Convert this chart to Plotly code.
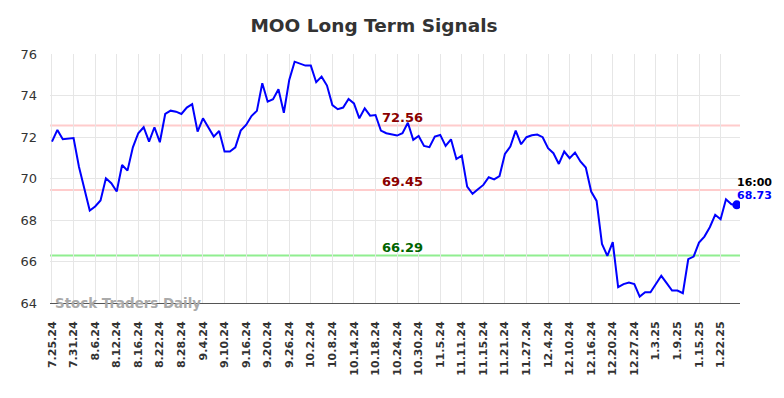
import plotly.graph_objects as go

tick_labels = ["7.25.24", "7.31.24", "8.6.24", "8.12.24", "8.16.24", "8.22.24", "8.28.24",
               "9.4.24", "9.10.24", "9.16.24", "9.20.24", "9.26.24", "10.2.24", "10.8.24",
               "10.14.24", "10.18.24", "10.24.24", "10.30.24", "11.5.24", "11.11.24",
               "11.15.24", "11.21.24", "11.27.24", "12.4.24", "12.10.24", "12.16.24",
               "12.20.24", "12.27.24", "1.3.25", "1.9.25", "1.15.25", "1.22.25"]
tick_step = 4

prices = [71.78, 72.34, 71.89, 71.92, 71.95, 70.57, 69.45, 68.46, 68.65, 68.94,
          70.01, 69.77, 69.37, 70.65, 70.38, 71.50, 72.18, 72.47, 71.78, 72.47,
          71.75, 73.11, 73.27, 73.22, 73.11, 73.42, 73.58, 72.26, 72.90, 72.47,
          72.02, 72.29, 71.30, 71.30, 71.50, 72.31, 72.58, 73.01, 73.26, 74.59,
          73.70, 73.82, 74.30, 73.17, 74.75, 75.63, 75.55, 75.44, 75.44, 74.64,
          74.91, 74.48, 73.54, 73.34, 73.42, 73.83, 73.62, 72.90, 73.38, 73.03,
          73.06, 72.31, 72.18, 72.13, 72.07, 72.18, 72.69, 71.86, 72.05, 71.57,
          71.51, 72.02, 72.10, 71.57, 71.89, 70.94, 71.10, 69.61, 69.26, 69.48,
          69.69, 70.06, 69.96, 70.12, 71.18, 71.54, 72.31, 71.65, 71.99, 72.08,
          72.12, 71.99, 71.46, 71.22, 70.70, 71.30, 70.98, 71.25, 70.82, 70.53,
          69.37, 68.92, 66.85, 66.27, 66.93, 64.76, 64.91, 64.99, 64.91, 64.31,
          64.52, 64.52, 64.92, 65.31, 64.96, 64.60, 64.60, 64.47, 66.11, 66.24,
          66.91, 67.20, 67.65, 68.25, 68.04, 69.00, 68.76, 68.73]

resistance_high = 72.56
resistance_low = 69.45
support = 66.29
last_time = "16:00"

x = list(range(len(prices)))
tickvals = [i * tick_step for i in range(len(tick_labels))]

fig = go.Figure()
fig.add_trace(go.Scatter(x=x, y=prices, mode="lines",
                         line=dict(color="#0000ff", width=2), hoverinfo="skip"))
fig.add_trace(go.Scatter(x=[x[-1]], y=[prices[-1]], mode="markers",
                         marker=dict(color="#0000ff", size=9), hoverinfo="skip"))

for val, col in [(resistance_high, "#ffcccc"), (resistance_low, "#ffcccc"), (support, "#90ee90")]:
    fig.add_shape(type="line", xref="paper", x0=0, x1=1, yref="y", y0=val, y1=val,
                  line=dict(color=col, width=2), layer="below")

mid_x = 65
for val, col in [(resistance_high, "#8b0000"), (resistance_low, "#8b0000"), (support, "#006400")]:
    fig.add_annotation(x=mid_x, y=val, text=f"{val:.2f}", showarrow=False, yshift=8,
                       font=dict(family="DejaVu Sans", size=13, color=col, weight="bold"))

fig.add_annotation(x=x[-1], y=prices[-1], text=last_time, showarrow=False,
                   xanchor="left", xshift=-2, yshift=22,
                   font=dict(family="DejaVu Sans", size=11, color="#000000", weight="bold"))
fig.add_annotation(x=x[-1], y=prices[-1], text=f"{prices[-1]:.2f}", showarrow=False,
                   xanchor="left", xshift=-2, yshift=9,
                   font=dict(family="DejaVu Sans", size=11, color="#0000ff", weight="bold"))

fig.add_annotation(xref="paper", yref="paper", x=0.0, y=0.0, text="Stock Traders Daily",
                   showarrow=False, xanchor="left", yanchor="middle", xshift=3,
                   font=dict(family="DejaVu Sans", size=13.4, color="#aaaaaa", weight="bold"))

fig.update_layout(
    width=768, height=382,
    margin=dict(l=32, r=36, t=46, b=87),
    paper_bgcolor="white", plot_bgcolor="white",
    showlegend=False,
    title=dict(text="MOO Long Term Signals", x=0.4766, xanchor="center", y=0.972, yanchor="top",
               font=dict(family="DejaVu Sans", size=18.5, color="#333333", weight="bold")),
    xaxis=dict(range=[-0.37, 127.6], tickmode="array", tickvals=tickvals, ticktext=tick_labels,
               tickangle=-90, showgrid=True, gridcolor="#e6e6e6", gridwidth=1,
               showline=True, linecolor="#555555", linewidth=1, zeroline=False,
               ticks="", ticklabelstandoff=13,
               tickfont=dict(family="DejaVu Sans", size=11, color="#333333", weight="bold")),
    yaxis=dict(range=[64, 76], tickmode="array", tickvals=[64, 66, 68, 70, 72, 74, 76],
               showgrid=True, gridcolor="#e6e6e6", gridwidth=1, zeroline=False,
               showline=False, ticks="", ticklabelstandoff=12,
               tickfont=dict(family="DejaVu Sans", size=13, color="#333333")),
)

fig.write_html("out.html")
